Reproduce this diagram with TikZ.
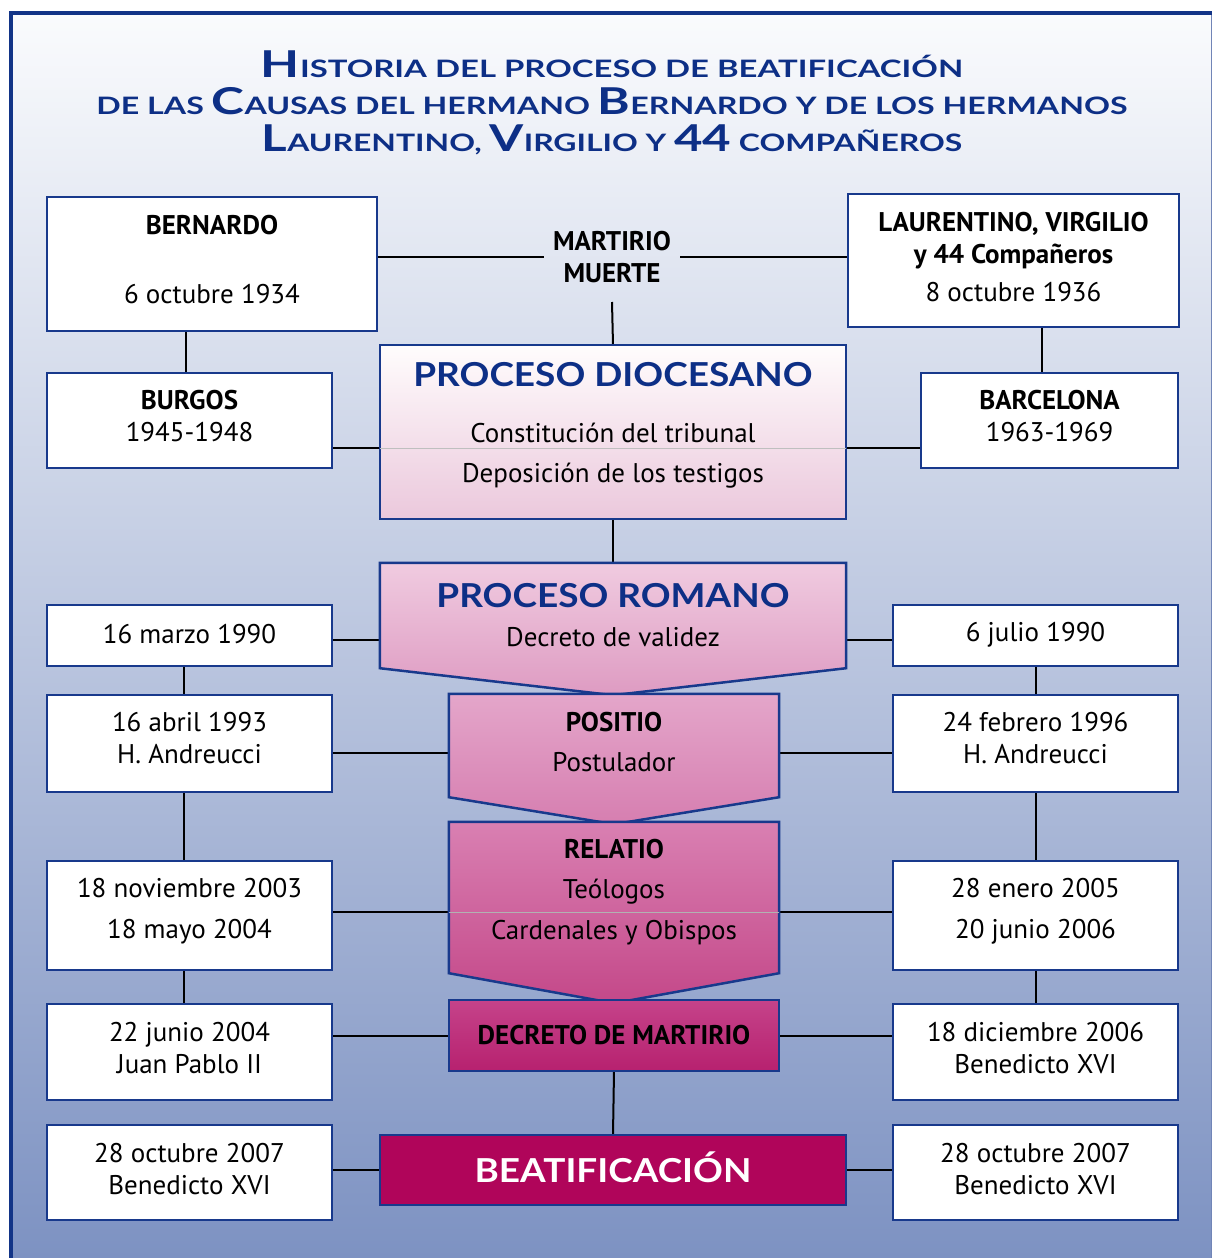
\documentclass[tikz,border=0pt]{standalone}
\usepackage{fontspec}
\usepackage{graphicx}
\setmainfont{PT Sans}
\newfontfamily\hdfont{Lato}
\usetikzlibrary{calc}
\definecolor{frameblue}{HTML}{123487}
\definecolor{boxblue}{HTML}{18398C}
\definecolor{titleblue}{HTML}{0D2F86}
\definecolor{beatred}{HTML}{B0055A}
\definecolor{bgtop}{HTML}{FAFBFD}
\definecolor{bgbot}{HTML}{7D92C2}
\newcommand\Bg[1]{{\fontsize{37}{37}\selectfont #1}}
\newcommand\Hd[1]{\scalebox{1.12}[1]{\hdfont\bfseries\fontsize{33}{33}\selectfont #1}}
% name, centre, width, height, text shift, text
\newcommand\Tbox[6]{%
  \node[box, minimum width=#3, minimum height=#4] (#1) at (#2) {};
  \node[txt] (#1-t) at ($(#1)+(0,#5)$) {#6};}
\pgfdeclarelayer{back}
\pgfdeclarelayer{shapes}
\pgfsetlayers{back,shapes,main}
\begin{document}
\begin{tikzpicture}[x=1pt,y=-1pt,
  box/.style={draw=boxblue, line width=2.5pt, fill=white, inner sep=0pt},
  txt/.style={inner sep=0pt, align=center, font=\fontsize{27}{32}\selectfont},
  ttlline/.style={inner sep=0pt, anchor=base, text=titleblue, font=\hdfont\bfseries\fontsize{24}{24}\selectfont},
  frameshape/.style={inner sep=0pt},
  conn/.style={line width=2pt, black},
  shp/.style={draw=boxblue, line width=2.5pt},
  ]
\useasboundingbox (0,0) rectangle (1214,1258);

% ---------- title ----------
\node[ttlline] (ttl1) at (612,77) {\scalebox{1.37}[1]{\Bg{H}ISTORIA DEL PROCESO DE BEATIFICACIÓN}};
\node[ttlline] (ttl2) at (612,114) {\scalebox{1.34}[1]{DE LAS \Bg{C}AUSAS DEL HERMANO \Bg{B}ERNARDO Y DE LOS HERMANOS}};
\node[ttlline] (ttl3) at (612,151) {\scalebox{1.33}[1]{\Bg{L}AURENTINO, \Bg{V}IRGILIO Y \Bg{44} COMPAÑEROS}};

% ---------- side boxes ----------
\Tbox{bern}{212,264}{330}{134}{-4}{\textbf{BERNARDO}\\[37pt]6 octubre 1934}
\Tbox{laur}{1013.5,260.5}{331}{133}{-3}{\textbf{LAURENTINO, VIRGILIO}\\\textbf{y 44 Compañeros}\\[6pt]8 octubre 1936}
\node[txt, inner sep=9pt] (mart) at (612,257) {\textbf{MARTIRIO}\\\textbf{MUERTE}};
\Tbox{burg}{189.5,420.5}{285}{95}{-4}{\textbf{BURGOS}\\1945-1948}
\Tbox{barc}{1049.5,420.5}{257}{95}{-4}{\textbf{BARCELONA}\\1963-1969}
\Tbox{m90l}{189.5,635.5}{285}{61}{-1}{16 marzo 1990}
\Tbox{j90r}{1035.5,635.5}{285}{61}{-1}{6 julio 1990}
\Tbox{a93l}{189.5,743.5}{285}{97}{-5}{16 abril 1993\\H. Andreucci}
\Tbox{f96r}{1035.5,743.5}{285}{97}{-5}{24 febrero 1996\\H. Andreucci}
\Tbox{n03l}{189.5,915.5}{285}{109}{-4}{18 noviembre 2003\\[9pt]18 mayo 2004}
\Tbox{e05r}{1035.5,915.5}{285}{109}{-4}{28 enero 2005\\[9pt]20 junio 2006}
\Tbox{j04l}{189.5,1052}{285}{96}{-4}{22 junio 2004\\Juan Pablo II}
\Tbox{d06r}{1035.5,1052}{285}{96}{-4}{18 diciembre 2006\\Benedicto XVI}
\Tbox{o07l}{189.5,1172.5}{285}{95}{-3}{28 octubre 2007\\Benedicto XVI}
\Tbox{o07r}{1035.5,1172.5}{285}{95}{-3}{28 octubre 2007\\Benedicto XVI}

% ---------- central shapes (frames) and texts ----------
\node[frameshape, minimum width=466, minimum height=174] (pd) at (613,432) {};
\node[frameshape, minimum width=466, minimum height=105] (pr) at (613,615.5) {};
\node[frameshape, minimum width=330, minimum height=103] (pos) at (614,745.5) {};
\node[frameshape, minimum width=330, minimum height=151] (rel) at (614,897.5) {};
\node[frameshape, minimum width=330, minimum height=71] (dec) at (614,1035.5) {};
\node[frameshape, minimum width=466, minimum height=70] (beat) at (613,1170) {};

\node[txt] (pd-t) at (613,425)
 {{\color{titleblue}\Hd{PROCESO DIOCESANO}}\\[24pt]Constitución del tribunal\\[8pt]Deposición de los testigos};
\node[txt] (pr-t) at (613,615.5)
 {{\color{titleblue}\Hd{PROCESO ROMANO}}\\[7pt]Decreto de validez};
\node[txt] (pos-t) at (614,742.5) {\textbf{POSITIO}\\[8pt]Postulador};
\node[txt] (rel-t) at (614,892.5) {\textbf{RELATIO}\\[8pt]Teólogos\\[9pt]Cardenales y Obispos};
\node[txt] (dec-t) at (614,1035) {\textbf{DECRETO DE MARTIRIO}};
\node[txt, text=white] (beat-t) at (613,1167) {\Hd{BEATIFICACIÓN}};

\begin{pgfonlayer}{shapes}
\path[shp, top color=white!96!pink, bottom color={rgb,255:red,235;green,200;blue,220}]
  (pd.north west) rectangle (pd.south east);
\draw[line width=0.8pt, black!25] ($(pd.west)+(0,16)$) -- ($(pd.east)+(0,16)$);
\path[shp, top color={rgb,255:red,240;green,203;blue,224}, bottom color={rgb,255:red,222;green,155;blue,194}]
  (pr.north west) -- (pr.north east) -- (pr.south east) -- ($(pr.south)+(0,27)$) -- (pr.south west) -- cycle;
\path[shp, top color={rgb,255:red,228;green,166;blue,202}, bottom color={rgb,255:red,214;green,126;blue,176}]
  (pos.north west) -- (pos.north east) -- (pos.south east) -- ($(pos.south)+(0,27)$) -- (pos.south west) -- cycle;
\path[shp, top color={rgb,255:red,217;green,128;blue,178}, bottom color={rgb,255:red,196;green,72;blue,137}]
  (rel.north west) -- (rel.north east) -- (rel.south east) -- ($(rel.south)+(0,30)$) -- (rel.south west) -- cycle;
\draw[line width=0.8pt, black!30] ($(rel.west)+(0,14.5)$) -- ($(rel.east)+(0,14.5)$);
\path[shp, top color={rgb,255:red,197;green,67;blue,138}, bottom color={rgb,255:red,183;green,33;blue,111}]
  (dec.north west) rectangle (dec.south east);
\path[shp, fill=beatred] (beat.north west) rectangle (beat.south east);
\end{pgfonlayer}

% ---------- background and connectors ----------
\begin{pgfonlayer}{back}
\fill[white] (0,0) rectangle (1214,1258);
\shade[top color=bgtop, bottom color=bgbot] (11,12.5) rectangle (1211,1258);
\draw[frameblue!60, line width=1pt] (1211,12.5) -- (1211,1258);
\draw[frameblue, line width=4pt] (11,1258) -- (11,12.5) -- (1212,12.5);

\draw[conn] (mart.west) -- (mart.west -| bern.east);
\draw[conn] (mart.east) -- (mart.east -| laur.west);
\draw[conn] ($(mart.south)+(0,10)$) -- (pd.north);
\draw[conn] ($(burg.north)+(-4,0)$) coordinate (c1) -- (c1 |- bern.south);
\draw[conn] ($(barc.north)+(-8,0)$) coordinate (c2) -- (c2 |- laur.south);
\draw[conn] ($(pd.west)+(0,16)$) coordinate (c3) -- (c3 -| burg.east);
\draw[conn] ($(pd.east)+(0,16)$) coordinate (c4) -- (c4 -| barc.west);
\draw[conn] (pd.south) -- (pr.north);
\draw[conn] ($(m90l.east)+(0,4)$) coordinate (c5) -- (c5 -| pr.west);
\draw[conn] ($(j90r.west)+(0,4)$) coordinate (c6) -- (c6 -| pr.east);
\draw[conn] ($(m90l.south)+(-6,0)$) coordinate (c7) -- (c7 |- a93l.north);
\draw[conn] ($(a93l.south)+(-6,0)$) coordinate (c8) -- (c8 |- n03l.north);
\draw[conn] ($(n03l.south)+(-6,0)$) coordinate (c9) -- (c9 |- j04l.north);
\draw[conn] (j90r.south) -- (f96r.north);
\draw[conn] (f96r.south) -- (e05r.north);
\draw[conn] (e05r.south) -- (d06r.north);
\draw[conn] ($(a93l.east)+(0,9)$) coordinate (c10) -- (c10 -| pos.west);
\draw[conn] ($(f96r.west)+(0,9)$) coordinate (c11) -- (c11 -| pos.east);
\draw[conn] ($(rel.west)+(0,14.5)$) coordinate (c12) -- (c12 -| n03l.east);
\draw[conn] ($(rel.east)+(0,14.5)$) coordinate (c13) -- (c13 -| e05r.west);
\draw[conn] (dec.west) -- (dec.west -| j04l.east);
\draw[conn] (dec.east) -- (dec.east -| d06r.west);
\draw[conn] (dec.south) -- (beat.north);
\draw[conn] (beat.west) -- (beat.west -| o07l.east);
\draw[conn] (beat.east) -- (beat.east -| o07r.west);
\end{pgfonlayer}
\end{tikzpicture}
\end{document}
